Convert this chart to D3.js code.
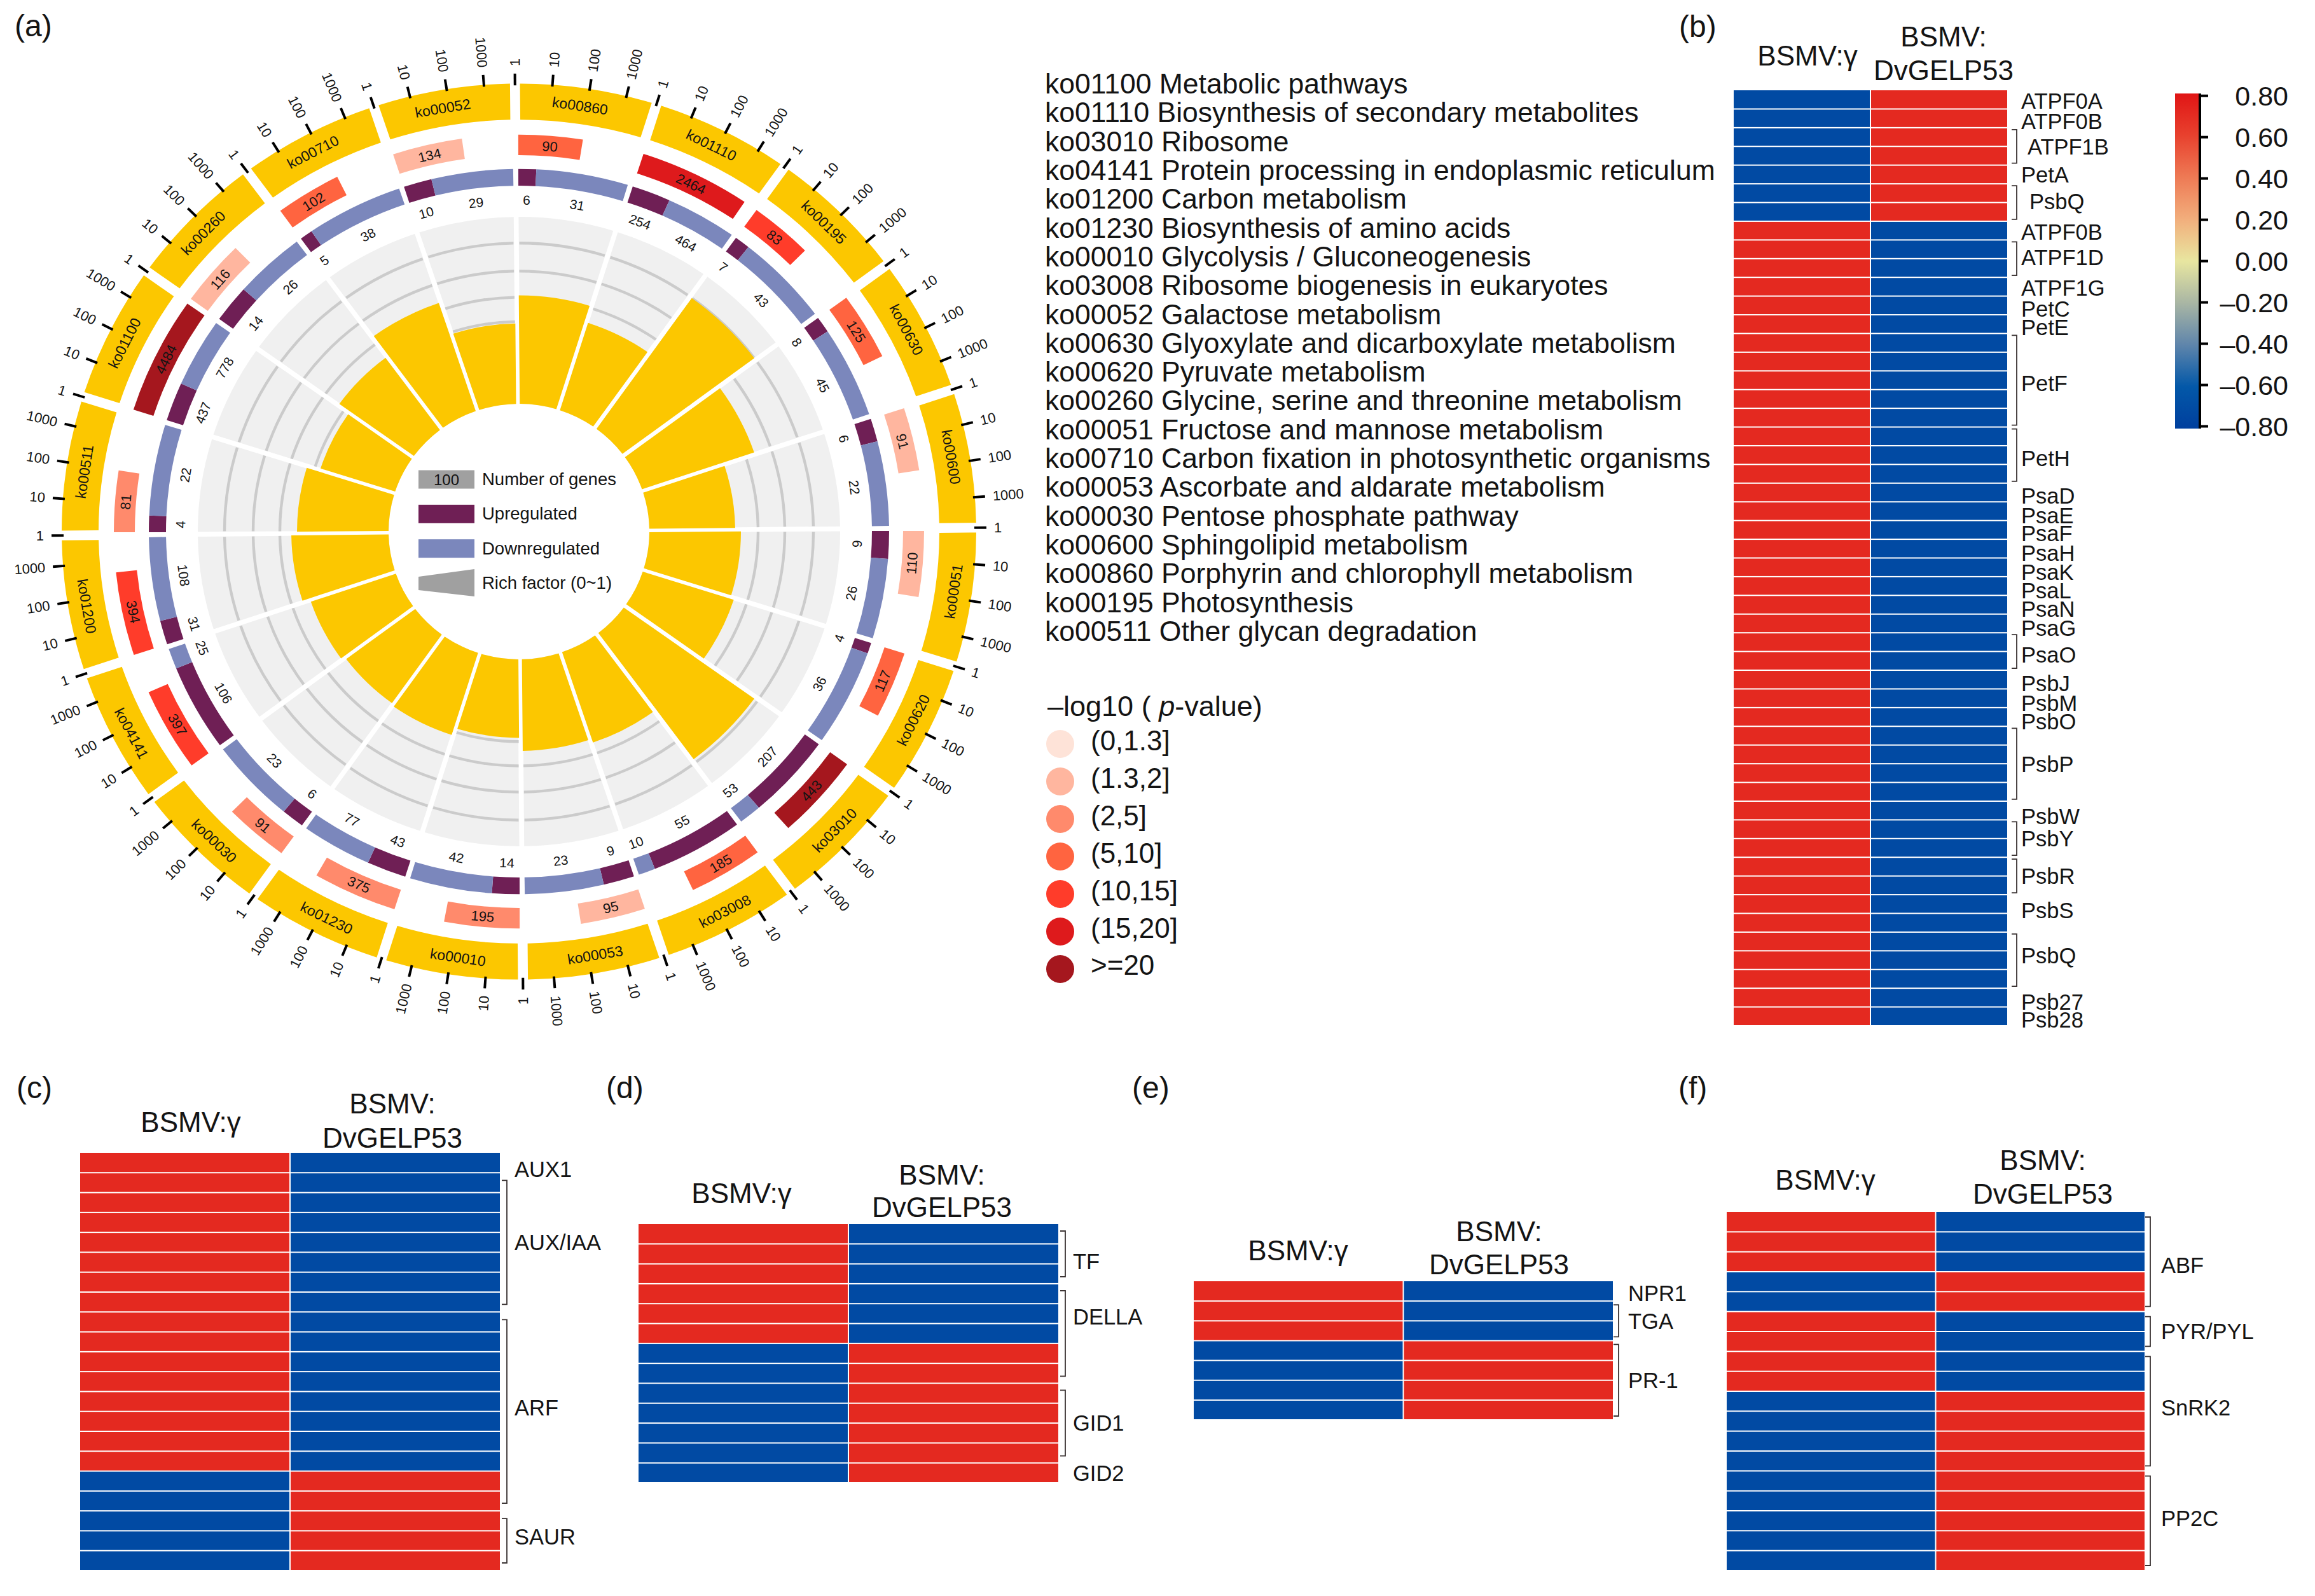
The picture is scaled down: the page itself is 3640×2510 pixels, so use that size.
<!DOCTYPE html>
<html><head><meta charset="utf-8">
<script src="https://cdn.jsdelivr.net/npm/d3@7"></script>
<style>html,body{margin:0;padding:0;background:#fff}svg{display:block}text{font-family:"Liberation Sans",Arial,sans-serif;fill:#141414}</style>
</head><body><svg id="c" width="3640" height="2510" viewBox="0 0 3640 2510"></svg>
<script>
// ---------- panel (a) data: sectors clockwise from 12 o'clock ----------
const sectorIds=["ko00860","ko01110","ko00195","ko00630","ko00600","ko00051","ko00620","ko03010","ko03008","ko00053","ko00010","ko01230","ko00030","ko04141","ko01200","ko00511","ko01100","ko00260","ko00710","ko00052"];
const geneCounts=[90,2464,83,125,91,110,117,443,185,95,195,375,91,397,394,81,4484,116,102,134];
const pBinIndex=[3,5,4,3,1,1,3,6,3,1,2,2,2,4,4,2,6,1,3,1];
const upCounts=[6,254,7,8,6,9,4,207,55,9,14,43,6,106,31,4,437,14,5,10];
const downCounts=[31,464,43,45,22,26,36,53,10,23,42,77,23,25,108,22,778,26,38,29];
const richFactors=[.58,.49,.86,.62,.45,.48,.50,.84,.51,.49,.42,.46,.45,.47,.51,.48,.41,.48,.61,.43];
const richGrid=[.44,.57,.71,.86];
const countTicks=[1,10,100,1000];
const pBinLabels=["(0,1.3]","(1.3,2]","(2,5]","(5,10]","(10,15]","(15,20]",">=20"];
const pBinColors=["#fee3d8","#ffb69f","#ff8a6c","#ff6440","#ff3c2a","#de1a1c","#a5171e"];
const innerLegend=["Number of genes","Upregulated","Downregulated","Rich factor (0~1)"];
const listIds=["ko01100","ko01110","ko03010","ko04141","ko01200","ko01230","ko00010","ko03008","ko00052","ko00630","ko00620","ko00260","ko00051","ko00710","ko00053","ko00030","ko00600","ko00860","ko00195","ko00511"];
const listNames=["Metabolic pathways","Biosynthesis of secondary metabolites","Ribosome","Protein processing in endoplasmic reticulum","Carbon metabolism","Biosynthesis of amino acids","Glycolysis / Gluconeogenesis","Ribosome biogenesis in eukaryotes","Galactose metabolism","Glyoxylate and dicarboxylate metabolism","Pyruvate metabolism","Glycine, serine and threonine metabolism","Fructose and mannose metabolism","Carbon fixation in photosynthetic organisms","Ascorbate and aldarate metabolism","Pentose phosphate pathway","Sphingolipid metabolism","Porphyrin and chlorophyll metabolism","Photosynthesis","Other glycan degradation"];

// ---------- heatmap data: BSMV:γ column (rows are z-scored, so DvGELP53 is the opposite sign) ----------
const H=0.71,L=-0.71;
const bValues=[L,L,L,L,L,L,L,H,H,H,H,H,H,H,H,H,H,H,H,H,H,H,H,H,H,H,H,H,H,H,H,H,H,H,H,H,H,H,H,H,H,H,H,H,H,H,H,H,H,H];
const bGenes=["ATPF0A","ATPF0B","ATPF1B","PetA","PsbQ","ATPF0B","ATPF1D","ATPF1G","PetC","PetE","PetF","PetH","PsaD","PsaE","PsaF","PsaH","PsaK","PsaL","PsaN","PsaG","PsaO","PsbJ","PsbM","PsbO","PsbP","PsbW","PsbY","PsbR","PsbS","PsbQ","Psb27","Psb28"];
const bSpans=[1,1,2,1,2,1,2,1,1,1,5,3,1,1,1,1,1,1,1,1,2,1,1,1,4,1,2,2,2,3,1,1];
const bBracket=[0,0,1,0,1,0,1,0,0,0,1,1,0,0,0,0,0,0,0,0,1,0,0,0,1,0,1,1,0,1,0,0];
const cValues=[H,H,H,H,H,H,H,H,H,H,H,H,H,H,H,H,L,L,L,L,L];
const cGenes=["AUX1","AUX/IAA","ARF","SAUR"];
const cSpans=[1,7,10,3];
const cBracket=[0,1,1,1];
const dValues=[H,H,H,H,H,H,L,L,L,L,L,L,L];
const dGenes=["TF","DELLA","GID1","GID2"];
const dSpans=[3,5,4,1];
const dBracket=[1,1,1,0];
const eValues=[H,H,H,L,L,L,L];
const eGenes=["NPR1","TGA","PR-1"];
const eSpans=[1,2,4];
const eBracket=[0,1,1];
const fValues=[H,H,H,L,L,H,H,H,H,L,L,L,L,L,L,L,L,L];
const fGenes=["ABF","PYR/PYL","SnRK2","PP2C"];
const fSpans=[5,2,6,5];
const fBracket=[1,1,1,1];
const colorStops=[-.8,-.6,-.4,-.2,0,.2,.4,.6,.8];
const colorRamp=["#003f9e","#0358a8","#5f85ab","#a9b6a4","#e8e6a0","#f2ae7c","#ee7a55","#e8412e","#e01515"];
const legendTicks=[.8,.6,.4,.2,0,-.2,-.4,-.6,-.8];

const svg=d3.select("#c");
svg.append("rect").attr("width",3640).attr("height",2510).attr("fill","#fff");
const rad=d=>d*Math.PI/180;
const color=d3.scaleLinear().domain(colorStops).range(colorRamp);

// ---------- circular plot ----------
const g=svg.append("g").attr("transform","translate(816,836) scale(1,.98) rotate(-.5)");
const STEP=18,EDGE=.4;
const angleOf=d3.scaleLinear().domain([0,sectorIds.length]).range([0,360]);
const countAngle=d3.scaleLog().domain([1,1000]).range([0,14.1]);
const richR=d3.scaleLinear().domain([0,1]).range([205,505]);
const arc=d3.arc();
const YEL="#fcc700";
function tangentRot(a){a=(a+3600)%360;return (a>90&&a<270)?a-180:a;}
function atPolar(sel,r,a,rot){const x=r*Math.sin(rad(a)),y=-r*Math.cos(rad(a));sel.attr("transform",`translate(${x},${y}) rotate(${rot})`);return sel;}
const arcPath=(r0,r1,a0,a1,pad)=>arc({innerRadius:r0,outerRadius:r1,startAngle:rad(a0),endAngle:rad(a1),padAngle:pad||0,padRadius:pad?500:0});

sectorIds.forEach((id,i)=>{
  const a0=angleOf(i),a1=angleOf(i+1),mid=a0+STEP/2;
  const pad=8/500;
  // outer band
  g.append("path").attr("d",arcPath(661,719,a0,a1,pad)).attr("fill",YEL);
  atPolar(g.append("text").attr("text-anchor","middle").attr("dy",".35em").attr("font-size",23).text(id),690,mid-.5,tangentRot(mid));
  // log count ticks
  countTicks.forEach(v=>{
    const a=a0+countAngle(v);
    const p0=d3.pointRadial(rad(a),716),p1=d3.pointRadial(rad(a),735);
    g.append("line").attr("x1",p0[0]).attr("y1",p0[1]).attr("x2",p1[0]).attr("y2",p1[1]).attr("stroke","#000").attr("stroke-width",4);
    const right=a<180;
    atPolar(g.append("text").attr("text-anchor",right?"start":"end").attr("dy",".35em").attr("font-size",22).text(v),747,a,right?a-90:a+90);
  });
  // gene count bar
  const barEnd=a0+EDGE+countAngle(geneCounts[i]);
  g.append("path").attr("d",arcPath(604,637,a0+EDGE,barEnd)).attr("fill",pBinColors[pBinIndex[i]]);
  atPolar(g.append("text").attr("text-anchor","middle").attr("dy",".35em").attr("font-size",22).text(geneCounts[i]),620,(a0+EDGE+barEnd)/2,tangentRot((a0+barEnd)/2));
  // up / down ring
  const split=d3.scaleLinear().domain([0,upCounts[i]+downCounts[i]]).range([a0+EDGE,a1-EDGE]);
  const aSplit=split(upCounts[i]);
  g.append("path").attr("d",arcPath(555,582,a0+EDGE,aSplit)).attr("fill","#6f1f55");
  g.append("path").attr("d",arcPath(555,582,aSplit,a1-EDGE)).attr("fill","#7b87bc");
  [[upCounts[i],(a0+EDGE+aSplit)/2],[downCounts[i],(aSplit+a1-EDGE)/2]].forEach(([v,a])=>{
    atPolar(g.append("text").attr("text-anchor","middle").attr("dy",".35em").attr("font-size",21).text(v),532,a,tangentRot(a));
  });
  // rich factor
  g.append("path").attr("d",arcPath(205,505,a0,a1,7/500)).attr("fill","#f0f0f0");
  richGrid.forEach(v=>{
    g.append("path").attr("d",arcPath(richR(v)-2.2,richR(v)+2.2,a0,a1,7/500)).attr("fill","#cbcbcb");
  });
  g.append("path").attr("d",arcPath(205,richR(richFactors[i]),a0,a1,7/500)).attr("fill",YEL);
});

// centre legend
const leg=svg.append("g");
const legendFill=["#a0a0a0","#6f1f55","#7b87bc"];
const legendY=d3.scalePoint().domain(innerLegend).range([754,917]);
innerLegend.forEach((t,i)=>{
  const yc=legendY(t);
  if(i<3) leg.append("rect").attr("x",658).attr("y",yc-14.5).attr("width",88).attr("height",29).attr("fill",legendFill[i]);
  else leg.append("path").attr("d",d3.line()([[658,yc-10],[746,yc-22],[746,yc+21],[658,yc+11]])+"Z").attr("fill","#a0a0a0");
  leg.append("text").attr("x",758).attr("y",yc+9).attr("font-size",27.5).text(t);
});
leg.append("text").attr("x",702).attr("y",legendY(innerLegend[0])+9).attr("text-anchor","middle").attr("font-size",24).text(100);

// pathway list
const listY=d3.scaleLinear().domain([0,19]).range([147,1008]);
listIds.forEach((id,i)=>{
  svg.append("text").attr("x",1643).attr("y",listY(i)).attr("font-size",44.5).text(id+" "+listNames[i]);
});

// p-value legend
const pt=svg.append("text").attr("x",1647).attr("y",1126).attr("font-size",45);
pt.append("tspan").text("\u2013log10 ( ");
pt.append("tspan").attr("font-style","italic").text("p");
pt.append("tspan").text("-value)");
const pY=d3.scaleLinear().domain([0,6]).range([1170,1524]);
pBinLabels.forEach((t,i)=>{
  svg.append("circle").attr("cx",1667).attr("cy",pY(i)).attr("r",22).attr("fill",pBinColors[i]);
  svg.append("text").attr("x",1715).attr("y",pY(i)+ (i==6?9:10)).attr("font-size",44).text(t);
});

// ---------- heatmaps ----------
function heatmap(o){
  const rows=d3.range(o.values.length);
  const y=d3.scaleBand().domain(rows).range([o.top,o.bottom]);
  const x=d3.scaleBand().domain([0,1]).range([o.left,o.right]);
  const h=svg.append("g");
  rows.forEach(r=>{
    [o.values[r],-o.values[r]].forEach((v,c)=>{
      h.append("rect").attr("x",x(c)+(c?1:0)).attr("y",y(r)+(r?1:0))
       .attr("width",x.bandwidth()-1).attr("height",y.bandwidth()-(r?2:1)).attr("fill",color(v));
    });
  });
  const ty=t=>h.append("text").attr("text-anchor","middle").attr("font-size",44).text(t);
  ty("BSMV:\u03b3").attr("x",o.hx[0]).attr("y",o.top+o.hy[0]);
  ty("BSMV:").attr("x",o.hx[1]).attr("y",o.top+o.hy[1]);
  ty("DvGELP53").attr("x",o.hx[1]).attr("y",o.top+o.hy[2]);
  let cur=0;
  const ys=d3.scaleLinear().domain([0,o.values.length]).range([o.top,o.bottom]);
  o.genes.forEach((g0,i)=>{
    const s=o.spans[i],y0=ys(cur),y1=ys(cur+s);
    const nudge=(o.nudge&&o.nudge[i])||[0,0];
    if(o.bracket[i]){
      const bx=o.right+o.bxOff;
      h.append("path").attr("fill","none").attr("stroke","#3a3232").attr("stroke-width",1.8)
       .attr("d",d3.line()([[bx-8,y0+o.inset],[bx,y0+o.inset],[bx,y1-o.inset],[bx-8,y1-o.inset]]));
    }
    h.append("text").attr("x",o.right+o.lxOff+nudge[0]).attr("y",(y0+y1)/2+nudge[1]).attr("dy",".36em").attr("font-size",34.5).text(g0);
    cur+=s;
  });
}
const nudgeB={0:[0,2],1:[0,4],2:[10,0],4:[13,-2],5:[0,2],6:[0,-2],7:[0,2],8:[0,5],9:[0,5],10:[0,5],11:[0,5],
  12:[0,5],13:[0,7],14:[0,5],15:[0,7],16:[0,7],17:[0,7],18:[0,7],19:[0,7],20:[0,5],21:[0,6],22:[0,7],23:[0,7],25:[0,9],28:[0,-5],29:[0,-7],30:[0,7],31:[0,5]};
heatmap({values:bValues,genes:bGenes,spans:bSpans,bracket:bBracket,left:2726,right:3156,top:142,bottom:1613,hx:[2842,3056],hy:[-39,-69,-16],bxOff:15,lxOff:22,inset:3,nudge:nudgeB});
heatmap({values:cValues,genes:cGenes,spans:cSpans,bracket:cBracket,left:126,right:786,top:1813,bottom:2470,hx:[300,617],hy:[-33,-62,-8],bxOff:11,lxOff:23,inset:12,nudge:{0:[0,10],2:[0,-6],3:[0,-6]}});
heatmap({values:dValues,genes:dGenes,spans:dSpans,bracket:dBracket,left:1004,right:1664,top:1925,bottom:2332,hx:[1166,1481],hy:[-33,-62,-11],bxOff:11,lxOff:23,inset:11,nudge:{0:[0,12],1:[0,-27]}});
heatmap({values:eValues,genes:eGenes,spans:eSpans,bracket:eBracket,left:1877,right:2536,top:2015,bottom:2233,hx:[2041,2357],hy:[-33,-63,-11],bxOff:9,lxOff:24,inset:6,nudge:{0:[0,3]}});
heatmap({values:fValues,genes:fGenes,spans:fSpans,bracket:fBracket,left:2715,right:3372,top:1906,bottom:2470,hx:[2870,3212],hy:[-35,-66,-13],bxOff:9,lxOff:26,inset:8,nudge:{0:[0,5],2:[0,-6],3:[0,-4]}});

// colour bar
const barY=d3.scaleLinear().domain([-.8,.8]).range([670.5,150.7]);
const defs=svg.append("defs");
const grad=defs.append("linearGradient").attr("id","cb").attr("x1",0).attr("x2",0).attr("y1",1).attr("y2",0);
colorStops.forEach(v=>grad.append("stop").attr("offset",(v+.8)/1.6).attr("stop-color",color(v)));
svg.append("rect").attr("x",3420).attr("y",147).attr("width",37).attr("height",527).attr("fill","url(#cb)");
svg.append("line").attr("x1",3459).attr("x2",3459).attr("y1",147).attr("y2",674).attr("stroke","#000").attr("stroke-width",4);
legendTicks.forEach(v=>{
  svg.append("line").attr("x1",3459).attr("x2",3472).attr("y1",barY(v)).attr("y2",barY(v)).attr("stroke","#000").attr("stroke-width",4);
  svg.append("text").attr("x",3598).attr("y",barY(v)).attr("dy",".36em").attr("text-anchor","end").attr("font-size",43)
    .text((v<0?"\u2013":"")+Math.abs(v).toFixed(2));
});

// panel letters
const panelLetters=["(a)","(b)","(c)","(d)","(e)","(f)"];
const letterX=[23,2640,26,953,1780,2639],letterY=[57,58,1727,1727,1727,1727];
panelLetters.forEach((t,i)=>svg.append("text").attr("x",letterX[i]).attr("y",letterY[i]).attr("font-size",48).text(t));
</script></body></html>
